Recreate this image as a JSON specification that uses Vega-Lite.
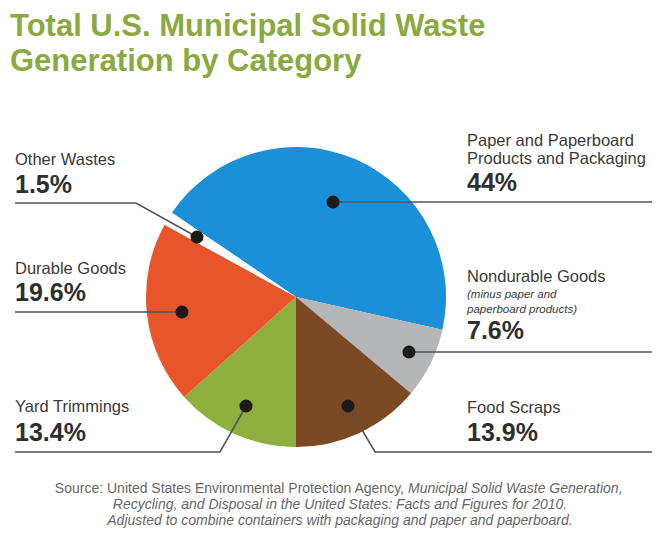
{
  "$schema": "https://vega.github.io/schema/vega-lite/v6.json",
  "width": 592,
  "height": 424,
  "autosize": {"type": "none"},
  "padding": {"left": 0, "top": 85, "right": 68, "bottom": 30},
  "background": "#ffffff",
  "config": {"view": {"stroke": null}, "font": "Liberation Sans"},
  "title": {
    "text": ["Total U.S. Municipal Solid Waste", "Generation by Category"],
    "anchor": "start",
    "frame": "group",
    "dx": 10,
    "offset": 7,
    "fontSize": 31,
    "lineHeight": 35,
    "font": "Liberation Sans",
    "fontWeight": "bold",
    "color": "#8aa93f"
  },
  "datasets": {
    "waste": [
      {"category": "Paper and Paperboard Products and Packaging", "share": 44, "rank": 1},
      {"category": "Nondurable Goods", "share": 7.6, "rank": 2},
      {"category": "Food Scraps", "share": 13.9, "rank": 3},
      {"category": "Yard Trimmings", "share": 13.4, "rank": 4},
      {"category": "Durable Goods", "share": 19.6, "rank": 5},
      {"category": "Other Wastes", "share": 1.5, "rank": 6}
    ],
    "leaders": [
      {"category": "Paper", "step": 0, "lx": 333, "ly": 202},
      {"category": "Paper", "step": 1, "lx": 652, "ly": 202},
      {"category": "Nondurable", "step": 0, "lx": 409, "ly": 352},
      {"category": "Nondurable", "step": 1, "lx": 652, "ly": 352},
      {"category": "Food", "step": 0, "lx": 348, "ly": 406},
      {"category": "Food", "step": 1, "lx": 375, "ly": 452},
      {"category": "Food", "step": 2, "lx": 652, "ly": 452},
      {"category": "Yard", "step": 0, "lx": 246, "ly": 406},
      {"category": "Yard", "step": 1, "lx": 220, "ly": 452},
      {"category": "Yard", "step": 2, "lx": 15, "ly": 452},
      {"category": "Durable", "step": 0, "lx": 182, "ly": 312},
      {"category": "Durable", "step": 1, "lx": 15, "ly": 312},
      {"category": "Other", "step": 0, "lx": 197, "ly": 237},
      {"category": "Other", "step": 1, "lx": 136, "ly": 203},
      {"category": "Other", "step": 2, "lx": 15, "ly": 203}
    ],
    "labels": [
      {"kind": "name", "text": "Other Wastes", "tx": 15, "ty": 165},
      {"kind": "pct", "text": "1.5%", "tx": 15, "ty": 193},
      {"kind": "name", "text": "Durable Goods", "tx": 15, "ty": 274},
      {"kind": "pct", "text": "19.6%", "tx": 15, "ty": 301},
      {"kind": "name", "text": "Yard Trimmings", "tx": 15, "ty": 412},
      {"kind": "pct", "text": "13.4%", "tx": 15, "ty": 441},
      {"kind": "name", "text": "Paper and Paperboard", "tx": 467, "ty": 145.5},
      {"kind": "name", "text": "Products and Packaging", "tx": 467, "ty": 164},
      {"kind": "pct", "text": "44%", "tx": 467, "ty": 190.5},
      {"kind": "name", "text": "Nondurable Goods", "tx": 467, "ty": 282},
      {"kind": "note", "text": "(minus paper and", "tx": 467, "ty": 298},
      {"kind": "note", "text": "paperboard products)", "tx": 467, "ty": 313},
      {"kind": "pct", "text": "7.6%", "tx": 467, "ty": 339},
      {"kind": "name", "text": "Food Scraps", "tx": 467, "ty": 413},
      {"kind": "pct", "text": "13.9%", "tx": 467, "ty": 441}
    ],
    "source": [
      {"part": "plain", "text": "Source: United States Environmental Protection Agency,", "tx": 404, "ty": 493},
      {"part": "italicStart", "text": "Municipal Solid Waste Generation,", "tx": 408, "ty": 493},
      {"part": "italicCenter", "text": "Recycling, and Disposal in the United States: Facts and Figures for 2010.", "tx": 340, "ty": 509},
      {"part": "italicCenter", "text": "Adjusted to combine containers with packaging and paper and paperboard.", "tx": 340, "ty": 525}
    ]
  },
  "layer": [
    {
      "data": {"name": "waste"},
      "mark": {"type": "arc", "outerRadius": 150, "innerRadius": 0},
      "encoding": {
        "theta": {"field": "share", "type": "quantitative", "stack": true, "scale": {"range": [-0.97389, 5.30930]}},
        "order": {"field": "rank", "type": "quantitative", "sort": "ascending"},
        "color": {
          "field": "category",
          "type": "nominal",
          "legend": null,
          "scale": {
            "domain": ["Paper and Paperboard Products and Packaging", "Nondurable Goods", "Food Scraps", "Yard Trimmings", "Durable Goods", "Other Wastes"],
            "range": ["#1b8fd8", "#b5b6b8", "#7b4a24", "#8eaf3d", "#e8552a", "#ffffff"]
          }
        }
      }
    },
    {
      "data": {"name": "leaders"},
      "mark": {"type": "line", "stroke": "#555555", "strokeWidth": 1.6, "interpolate": "linear"},
      "encoding": {
        "x": {"field": "lx", "type": "quantitative", "axis": null, "scale": {"domain": [0, 592], "nice": false, "zero": false}},
        "y": {"field": "ly", "type": "quantitative", "axis": null, "scale": {"domain": [85, 509], "nice": false, "zero": false, "reverse": true}},
        "detail": {"field": "category", "type": "nominal"},
        "order": {"field": "step", "type": "quantitative"}
      }
    },
    {
      "data": {"name": "leaders"},
      "transform": [{"filter": "datum.step == 0"}],
      "mark": {"type": "point", "filled": true, "size": 170, "color": "#1c1a1a", "opacity": 1},
      "encoding": {
        "x": {"field": "lx", "type": "quantitative", "axis": null, "scale": {"domain": [0, 592], "nice": false, "zero": false}},
        "y": {"field": "ly", "type": "quantitative", "axis": null, "scale": {"domain": [85, 509], "nice": false, "zero": false, "reverse": true}}
      }
    },
    {
      "data": {"name": "labels"},
      "transform": [{"filter": "datum.kind == 'name'"}],
      "mark": {"type": "text", "align": "left", "baseline": "alphabetic", "fontSize": 16.5, "font": "Liberation Sans", "color": "#3a3a3a"},
      "encoding": {
        "x": {"field": "tx", "type": "quantitative", "axis": null, "scale": {"domain": [0, 592], "nice": false, "zero": false}},
        "y": {"field": "ty", "type": "quantitative", "axis": null, "scale": {"domain": [85, 509], "nice": false, "zero": false, "reverse": true}},
        "text": {"field": "text", "type": "nominal"}
      }
    },
    {
      "data": {"name": "labels"},
      "transform": [{"filter": "datum.kind == 'pct'"}],
      "mark": {"type": "text", "align": "left", "baseline": "alphabetic", "fontSize": 25, "font": "Liberation Sans", "fontWeight": "bold", "color": "#2e2e2e"},
      "encoding": {
        "x": {"field": "tx", "type": "quantitative", "axis": null, "scale": {"domain": [0, 592], "nice": false, "zero": false}},
        "y": {"field": "ty", "type": "quantitative", "axis": null, "scale": {"domain": [85, 509], "nice": false, "zero": false, "reverse": true}},
        "text": {"field": "text", "type": "nominal"}
      }
    },
    {
      "data": {"name": "labels"},
      "transform": [{"filter": "datum.kind == 'note'"}],
      "mark": {"type": "text", "align": "left", "baseline": "alphabetic", "fontSize": 11.5, "font": "Liberation Sans", "fontStyle": "italic", "color": "#3a3a3a"},
      "encoding": {
        "x": {"field": "tx", "type": "quantitative", "axis": null, "scale": {"domain": [0, 592], "nice": false, "zero": false}},
        "y": {"field": "ty", "type": "quantitative", "axis": null, "scale": {"domain": [85, 509], "nice": false, "zero": false, "reverse": true}},
        "text": {"field": "text", "type": "nominal"}
      }
    },
    {
      "data": {"name": "source"},
      "transform": [{"filter": "datum.part == 'plain'"}],
      "mark": {"type": "text", "align": "right", "baseline": "alphabetic", "fontSize": 14, "font": "Liberation Sans", "color": "#666666"},
      "encoding": {
        "x": {"field": "tx", "type": "quantitative", "axis": null, "scale": {"domain": [0, 592], "nice": false, "zero": false}},
        "y": {"field": "ty", "type": "quantitative", "axis": null, "scale": {"domain": [85, 509], "nice": false, "zero": false, "reverse": true}},
        "text": {"field": "text", "type": "nominal"}
      }
    },
    {
      "data": {"name": "source"},
      "transform": [{"filter": "datum.part == 'italicStart'"}],
      "mark": {"type": "text", "align": "left", "baseline": "alphabetic", "fontSize": 14, "font": "Liberation Sans", "fontStyle": "italic", "color": "#666666"},
      "encoding": {
        "x": {"field": "tx", "type": "quantitative", "axis": null, "scale": {"domain": [0, 592], "nice": false, "zero": false}},
        "y": {"field": "ty", "type": "quantitative", "axis": null, "scale": {"domain": [85, 509], "nice": false, "zero": false, "reverse": true}},
        "text": {"field": "text", "type": "nominal"}
      }
    },
    {
      "data": {"name": "source"},
      "transform": [{"filter": "datum.part == 'italicCenter'"}],
      "mark": {"type": "text", "align": "center", "baseline": "alphabetic", "fontSize": 14, "font": "Liberation Sans", "fontStyle": "italic", "color": "#666666"},
      "encoding": {
        "x": {"field": "tx", "type": "quantitative", "axis": null, "scale": {"domain": [0, 592], "nice": false, "zero": false}},
        "y": {"field": "ty", "type": "quantitative", "axis": null, "scale": {"domain": [85, 509], "nice": false, "zero": false, "reverse": true}},
        "text": {"field": "text", "type": "nominal"}
      }
    }
  ]
}
